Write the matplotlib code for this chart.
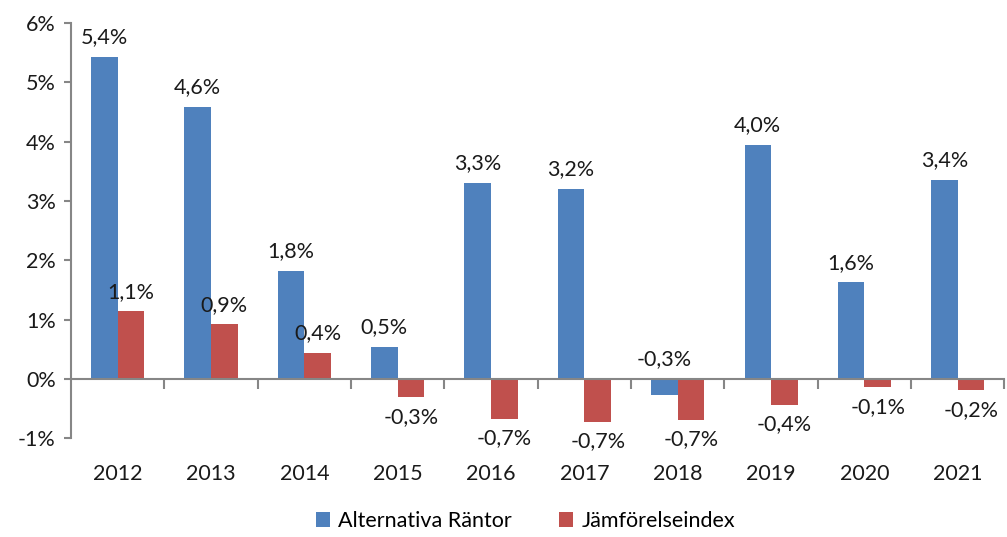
import matplotlib.pyplot as plt
import numpy as np

plt.rcParams['font.family'] = ['Lato', 'DejaVu Sans']

# Data (percent)
years = ['2012', '2013', '2014', '2015', '2016', '2017', '2018', '2019', '2020', '2021']
alternativa = [5.43, 4.59, 1.82, 0.54, 3.31, 3.21, -0.27, 3.95, 1.63, 3.36]
jamforelse = [1.14, 0.92, 0.44, -0.31, -0.67, -0.72, -0.69, -0.44, -0.14, -0.19]
alt_labels = ['5,4%', '4,6%', '1,8%', '0,5%', '3,3%', '3,2%', '-0,3%', '4,0%', '1,6%', '3,4%']
jam_labels = ['1,1%', '0,9%', '0,4%', '-0,3%', '-0,7%', '-0,7%', '-0,7%', '-0,4%', '-0,1%', '-0,2%']
yticks = [-1, 0, 1, 2, 3, 4, 5, 6]

blue = '#4F81BD'
red = '#C0504D'
axis_col = '#868686'
txt = '#1a1a1a'
fs = 15.5

fig = plt.figure(figsize=(10.07, 5.37), dpi=100)
ax = fig.add_axes([0.0705, 0.184, 0.927, 0.773])

x = np.arange(len(years))
w = 0.285
ax.bar(x - w / 2, alternativa, w, color=blue, label='Alternativa Räntor')
ax.bar(x + w / 2, jamforelse, w, color=red, label='Jämförelseindex')

# Data labels
for xi, v, lab in zip(x - w / 2, alternativa, alt_labels):
    ax.annotate(lab, (xi, max(v, 0)), xytext=(0, 14), textcoords='offset points',
                ha='center', va='center', fontsize=fs, color=txt)
for xi, v, lab in zip(x + w / 2, jamforelse, jam_labels):
    off = 14 if v >= 0 else -14
    ax.annotate(lab, (xi, v), xytext=(0, off), textcoords='offset points',
                ha='center', va='center', fontsize=fs, color=txt)

ax.set_xlim(-0.5, len(years) - 0.5)
ax.set_ylim(-1, 6)
ax.set_yticks(yticks)
ax.set_yticklabels([f'{t}%' for t in yticks])

ax.set_xticks(x)
ax.set_xticklabels(years)
ax.set_xticks(np.arange(len(years)) + 0.5, minor=True)
ax.tick_params(axis='x', which='major', length=0, pad=61, labelsize=fs, labelcolor=txt)
ax.tick_params(axis='x', which='minor', length=7, width=1.5, color=axis_col)
ax.tick_params(axis='y', length=5, width=1.5, color=axis_col, pad=6,
               labelsize=fs, labelcolor=txt)

for s in ['top', 'right']:
    ax.spines[s].set_visible(False)
ax.spines['bottom'].set_position(('data', 0))
ax.spines['bottom'].set_color(axis_col)
ax.spines['bottom'].set_linewidth(1.5)
ax.spines['left'].set_color(axis_col)
ax.spines['left'].set_linewidth(1.5)

fig.legend(loc='center', bbox_to_anchor=(0.522, 0.03), ncol=2, frameon=False,
           fontsize=fs, handlelength=0.65, handleheight=0.65, handletextpad=0.4,
           columnspacing=2.2)

fig.savefig('out.png', dpi=100)
